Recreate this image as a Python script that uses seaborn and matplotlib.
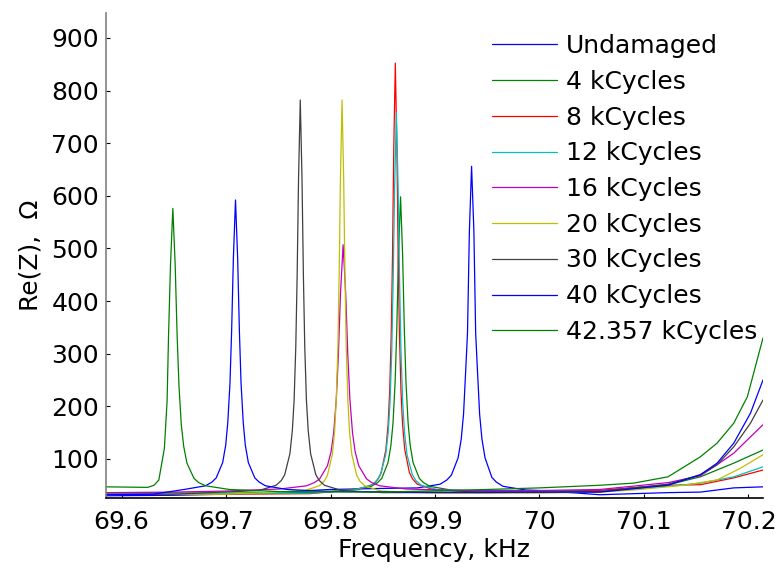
import pandas as pd
import seaborn as sns
import matplotlib
matplotlib.use("Agg")
import matplotlib.pyplot as plt

# frequency (kHz) and Re(Z) (Ohm) for each damage state
labels = ["Undamaged", "4 kCycles", "8 kCycles", "12 kCycles", "16 kCycles",
          "20 kCycles", "30 kCycles", "40 kCycles", "42.357 kCycles"]

freq_undamaged = [69.585, 69.65, 69.70, 69.75, 69.80, 69.85, 69.8834, 69.9049, 69.9113, 69.9156, 69.9221, 69.9251,
                  69.9273, 69.9294, 69.9311, 69.9329, 69.935, 69.9372, 69.9389, 69.9406, 69.9427, 69.9449, 69.9479,
                  69.9544, 69.9587, 69.9651, 69.9866, 70.0, 70.03, 70.058, 70.09, 70.123, 70.154, 70.186, 70.214]
re_undamaged = [30, 31, 33, 37, 42, 44, 45, 52, 60, 69, 102, 138, 185, 269, 340, 533, 656, 533, 340, 269, 185, 138,
                102, 65, 56, 48, 41, 40, 36, 32, 34, 36, 37, 45, 47]

freq_4k = [69.585, 69.70, 69.78, 69.819, 69.839, 69.845, 69.849, 69.855, 69.8578, 69.8598, 69.8618, 69.8634, 69.865,
           69.867, 69.869, 69.8706, 69.8722, 69.8742, 69.8762, 69.879, 69.885, 69.889, 69.895, 69.915, 69.96, 70.0,
           70.058, 70.123, 70.154, 70.186, 70.214]
re_4k = [36, 35, 36, 41, 48, 55, 63, 93, 126, 169, 246, 347, 486, 598, 486, 347, 246, 169, 126, 93, 63, 55, 48, 41,
         38, 39, 40, 51, 66, 92, 117]

freq_8k = [69.585, 69.70, 69.78, 69.826, 69.841, 69.8455, 69.8485, 69.853, 69.8551, 69.8566, 69.8581, 69.8593,
           69.8605, 69.862, 69.8635, 69.8647, 69.8659, 69.8674, 69.8689, 69.871, 69.8755, 69.8785, 69.883, 69.898,
           69.94, 70.0, 70.058, 70.123, 70.154, 70.186, 70.214]
re_8k = [33, 33, 34, 42, 52, 62, 74, 118, 166, 229, 340, 486, 689, 852, 689, 486, 340, 229, 166, 118, 74, 62, 52, 42,
         37, 37, 40, 50, 51, 64, 79]

freq_12k = [69.585, 69.70, 69.78, 69.8222, 69.8392, 69.8443, 69.8477, 69.8528, 69.8552, 69.8569, 69.8586, 69.8599,
            69.8613, 69.863, 69.8647, 69.8661, 69.8674, 69.8691, 69.8708, 69.8732, 69.8783, 69.8817, 69.8868,
            69.9038, 69.95, 70.0, 70.058, 70.123, 70.154, 70.186, 70.214]
re_12k = [34, 34, 35, 41, 50, 59, 70, 108, 151, 206, 305, 435, 614, 758, 614, 435, 305, 206, 151, 108, 70, 59, 50,
          41, 39, 38, 38, 48, 54, 66, 85]

freq_16k = [69.585, 69.65, 69.70, 69.752, 69.777, 69.7845, 69.7895, 69.797, 69.8005, 69.803, 69.8055, 69.8075,
            69.8095, 69.812, 69.8145, 69.8165, 69.8185, 69.821, 69.8235, 69.827, 69.8345, 69.8395, 69.847, 69.872,
            69.92, 70.0, 70.058, 70.123, 70.154, 70.170, 70.186, 70.202, 70.214]
re_16k = [36, 37, 39, 43, 49, 55, 62, 87, 114, 150, 214, 298, 414, 507, 414, 298, 214, 150, 114, 87, 62, 55, 49, 43,
          40, 40, 42, 55, 68, 89, 111, 142, 165]

freq_20k = [69.585, 69.70, 69.7738, 69.7893, 69.794, 69.797, 69.8017, 69.8039, 69.8054, 69.807, 69.8082, 69.80945,
            69.811, 69.81255, 69.8138, 69.815, 69.8166, 69.8181, 69.8203, 69.825, 69.828, 69.8327, 69.8482, 69.90,
            70.0, 70.058, 70.09, 70.138, 70.170, 70.193, 70.214]
re_20k = [33, 33, 39, 49, 58, 69, 109, 153, 211, 312, 447, 632, 782, 632, 447, 312, 211, 153, 109, 69, 58, 49, 39,
          35, 35, 37, 41, 50, 60, 83, 108]

freq_30k = [69.585, 69.65, 69.7314, 69.7479, 69.7528, 69.7561, 69.7611, 69.7634, 69.7651, 69.7667, 69.768, 69.76935,
            69.771, 69.77265, 69.774, 69.7753, 69.7769, 69.7786, 69.7809, 69.7859, 69.7892, 69.7941, 69.8106, 69.85,
            69.95, 70.058, 70.123, 70.154, 70.170, 70.186, 70.202, 70.214]
re_30k = [33, 33, 40, 50, 59, 70, 110, 154, 211, 313, 447, 633, 782, 633, 447, 313, 211, 154, 110, 70, 59, 50, 40,
          36, 36, 38, 52, 70, 89, 123, 168, 212]

freq_40k = [69.585, 69.63, 69.6598, 69.6803, 69.6864, 69.6905, 69.6967, 69.6996, 69.7016, 69.7037, 69.7053, 69.70695,
            69.709, 69.71105, 69.7127, 69.7143, 69.7164, 69.7184, 69.7213, 69.7275, 69.7316, 69.7377, 69.7582, 69.80,
            69.90, 70.0, 70.058, 70.123, 70.154, 70.170, 70.186, 70.202, 70.214]
re_40k = [32, 33, 42, 49, 56, 64, 93, 126, 169, 244, 344, 481, 592, 481, 344, 244, 169, 126, 93, 64, 56, 49, 42, 38,
          37, 37, 37, 50, 70, 92, 130, 187, 250]

freq_42k = [69.585, 69.625, 69.631, 69.6356, 69.6409, 69.6435, 69.6449, 69.64675, 69.649, 69.65125, 69.6531, 69.6549,
            69.6571, 69.6594, 69.6625, 69.6693, 69.6738, 69.6805, 69.703, 69.75, 69.85, 69.95, 70.0, 70.058, 70.09,
            70.123, 70.154, 70.170, 70.186, 70.199, 70.214]
re_42k = [47, 46, 50, 60, 120, 210, 335, 468, 576, 468, 335, 238, 165, 124, 92, 63, 55, 49, 42, 38, 37, 42, 45, 50,
          54, 66, 104, 130, 168, 218, 330]

x_ticks = [69.6, 69.7, 69.8, 69.9, 70.0, 70.1, 70.2]
x_ticklabels = ["69.6", "69.7", "69.8", "69.9", "70", "70.1", "70.2"]
y_ticks = [100, 200, 300, 400, 500, 600, 700, 800, 900]

# old matlab colour order
colors = [(0, 0, 1), (0, 0.5, 0), (1, 0, 0), (0, 0.75, 0.75), (0.75, 0, 0.75),
          (0.75, 0.75, 0), (0.25, 0.25, 0.25), (0, 0, 1), (0, 0.5, 0)]

all_f = [freq_undamaged, freq_4k, freq_8k, freq_12k, freq_16k, freq_20k, freq_30k, freq_40k, freq_42k]
all_z = [re_undamaged, re_4k, re_8k, re_12k, re_16k, re_20k, re_30k, re_40k, re_42k]
frames = []
for lab, f, z in zip(labels, all_f, all_z):
    frames.append(pd.DataFrame({"freq": f, "rez": z, "state": lab}))
df = pd.concat(frames, ignore_index=True)

sns.set_theme(style="white")
plt.rcParams["font.family"] = ["DejaVu Sans"]
plt.rcParams["text.color"] = "black"
plt.rcParams["axes.labelcolor"] = "black"

fig = plt.figure(figsize=(7.77, 5.68), dpi=100)
ax = fig.add_axes([0.1364, 0.1238, 0.8456, 0.854])

sns.lineplot(data=df, x="freq", y="rez", hue="state", hue_order=labels,
             palette=colors, estimator=None, linewidth=0.9, ax=ax)

ax.set_xlim(69.585, 70.214)
ax.set_ylim(26.4, 948)
ax.set_xticks(x_ticks)
ax.set_xticklabels(x_ticklabels)
ax.set_yticks(y_ticks)

for s in ["top", "right"]:
    ax.spines[s].set_visible(False)
ax.spines["left"].set_color("#808080")
ax.spines["bottom"].set_color("black")
ax.spines["left"].set_linewidth(1.2)
ax.spines["bottom"].set_linewidth(1.2)

ax.tick_params(axis="both", direction="in", length=3, width=0.8, colors="black",
               labelsize=18, bottom=True, left=True)
ax.tick_params(axis="y", pad=5)
ax.tick_params(axis="x", pad=9)

ax.set_xlabel("Frequency, kHz", fontsize=18, labelpad=3)
ax.set_ylabel("Re(Z),  \u03a9", fontsize=18, labelpad=6)

handles, labs = ax.get_legend_handles_labels()
leg = ax.legend(handles, labs, loc="upper left", bbox_to_anchor=(492 / 777, 1 - 34 / 568),
                bbox_transform=fig.transFigure, frameon=False, fontsize=18,
                handlelength=2.6, handletextpad=0.35, labelspacing=0.47,
                borderpad=0, borderaxespad=0)
for t in leg.get_texts():
    t.set_color("black")

fig.savefig("out.png", dpi=100)
